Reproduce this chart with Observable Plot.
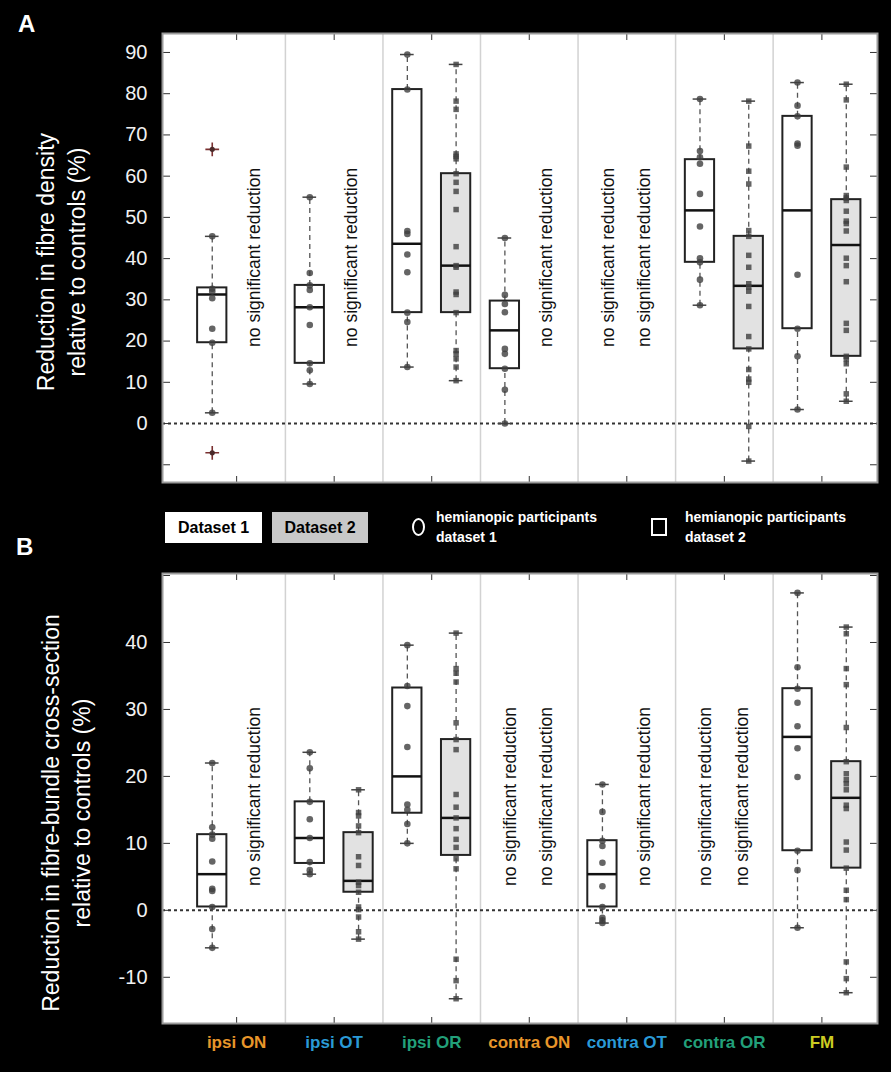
<!DOCTYPE html>
<html><head><meta charset="utf-8">
<script src="https://cdn.jsdelivr.net/npm/d3@7"></script>
<script src="https://cdn.jsdelivr.net/npm/@observablehq/plot@0.6"></script>
<style>
body{margin:0;background:#000;}
#wrap{position:relative;width:891px;height:1072px;background:#000;overflow:hidden;font-family:"Liberation Sans",Arial,sans-serif;}
.abs{position:absolute;}
.letter{color:#fff;font-weight:bold;font-size:24px;}
.ytitle{color:#fff;font-size:23px;line-height:31px;text-align:center;white-space:nowrap;transform:translate(-50%,-50%) rotate(-90deg);}
.lg{font-family:"Liberation Sans Narrow","Arial Narrow","Liberation Sans",Arial,sans-serif;font-weight:bold;}
.dsbox{color:#000;font-size:16px;display:flex;align-items:center;justify-content:center;}
.lgtext{color:#fff;font-size:14px;line-height:20px;}
</style></head><body><div id="wrap"></div><script>
// categories
const groups = ["ipsi ON","ipsi OT","ipsi OR","contra ON","contra OT","contra OR","FM"];
const groupColors = ["#e8962a","#2a9ad6","#22a07a","#e8962a","#2a9ad6","#22a07a","#cccc22"];

// Panel A: reduction in fibre density (%)
const fdGroup = [0,1,2,2,3,5,5,6,6];
const fdSet   = [1,1,1,2,1,1,2,1,2];
const fdLow   = [2.6, 9.6, 13.7, 10.4, 0.0, 28.7, -9.1, 3.4, 5.4];
const fdQ1    = [19.6, 14.6, 26.9, 26.9, 13.3, 39.1, 18.1, 23.0, 16.3];
const fdMed   = [31.3, 28.2, 43.6, 38.3, 22.6, 51.7, 33.4, 51.7, 43.3];
const fdQ3    = [32.9, 33.5, 81.0, 60.6, 29.7, 64.0, 45.4, 74.5, 54.3];
const fdHigh  = [45.4, 54.9, 89.5, 87.1, 45.0, 78.7, 78.2, 82.7, 82.3];
const fdPoints = [
  [45.4, 32.7, 32.0, 30.4, 23.0, 19.6, 2.6],
  [54.9, 36.5, 33.5, 32.4, 28.2, 23.9, 14.6, 12.9, 9.6],
  [89.5, 81.0, 46.7, 46.0, 41.0, 36.7, 26.9, 24.6, 13.7],
  [87.1, 78.2, 76.2, 65.4, 64.8, 64.2, 60.6, 58.5, 56.3, 51.9, 42.9, 38.3, 37.9, 31.9, 31.3, 26.9, 17.7, 16.9, 15.7, 13.7, 10.4],
  [45.0, 31.2, 29.0, 27.0, 18.1, 16.9, 13.3, 8.2, 0.0],
  [78.7, 66.1, 64.6, 63.0, 55.7, 47.8, 40.1, 39.1, 34.9, 28.7],
  [78.2, 67.3, 61.2, 58.1, 46.8, 45.4, 40.8, 37.9, 33.9, 33.1, 32.1, 28.4, 21.1, 18.1, 13.1, 10.8, 10.0, -0.7, -9.1],
  [82.7, 77.1, 74.5, 67.9, 67.4, 36.1, 23.0, 16.3, 3.4],
  [82.3, 78.5, 62.2, 55.3, 54.7, 54.1, 51.5, 49.1, 48.5, 46.7, 40.1, 38.3, 34.4, 24.3, 22.6, 16.3, 15.7, 14.5, 7.2, 5.4]
];
const fdOutGroup = [0, 0];
const fdOutSet   = [1, 1];
const fdOutValue = [66.5, -7.1];
const fdNoSigGroup = [0, 1, 3, 4, 4];
const fdNoSigSet   = [2, 2, 2, 1, 2];
const fdTicks = [-10, 0, 10, 20, 30, 40, 50, 60, 70, 80, 90];
const fdTickLabels = [0, 10, 20, 30, 40, 50, 60, 70, 80, 90];

// Panel B: reduction in fibre-bundle cross-section (%)
const fcGroup = [0,1,1,2,2,4,6,6];
const fcSet   = [1,1,2,1,2,1,1,2];
const fcLow   = [-5.6, 5.4, -4.3, 10.0, -13.2, -1.9, -2.6, -12.3];
const fcQ1    = [0.5, 7.0, 2.7, 14.5, 8.2, 0.5, 8.9, 6.3];
const fcMed   = [5.4, 10.8, 4.4, 20.0, 13.8, 5.4, 25.9, 16.8];
const fcQ3    = [11.3, 16.2, 11.6, 33.2, 25.5, 10.4, 33.1, 22.2];
const fcHigh  = [22.0, 23.6, 18.0, 39.6, 41.4, 18.8, 47.4, 42.3];
const fcPoints = [
  [22.0, 12.4, 11.3, 10.7, 7.3, 3.2, 2.9, 0.5, -2.8, -5.6],
  [23.6, 21.2, 16.2, 13.6, 10.8, 7.2, 6.0, 5.4],
  [18.0, 14.6, 14.1, 12.6, 11.6, 8.0, 6.7, 4.2, 3.7, 2.7, 0.5, 0.1, -1.0, -3.2, -4.3],
  [39.6, 33.5, 30.5, 24.4, 15.8, 15.0, 12.9, 10.0],
  [41.4, 36.1, 35.4, 34.1, 28.0, 25.5, 24.0, 17.3, 15.4, 13.8, 12.2, 10.6, 9.4, 7.7, 6.2, -7.3, -10.5, -13.2],
  [18.8, 14.7, 10.4, 9.6, 7.1, 3.6, 0.5, -1.1, -1.5, -1.9],
  [47.4, 36.3, 33.1, 31.0, 27.5, 24.2, 19.9, 8.9, 6.0, -2.6],
  [42.3, 41.3, 36.1, 33.7, 27.3, 22.2, 20.4, 19.5, 18.9, 18.0, 15.7, 15.2, 10.2, 9.0, 6.3, 3.0, 1.6, -7.7, -10.2, -12.3]
];
const fcNoSigGroup = [0, 3, 3, 4, 5, 5];
const fcNoSigSet   = [2, 1, 2, 2, 1, 2];
const fcTicks = [-10, 0, 10, 20, 30, 40, 50];
const fcTickLabels = [-10, 0, 10, 20, 30, 40];

const noSigText = "no significant reduction";

function panel(cfg) {
  const pos = d => d.g + (d.s === 1 ? -0.25 : 0.25);
  const boxes = cfg.group.map((g, i) => ({g, s: cfg.set[i], lo: cfg.low[i], q1: cfg.q1[i], med: cfg.med[i], q3: cfg.q3[i], hi: cfg.high[i]}));
  const pts = [];
  cfg.points.forEach((arr, i) => arr.forEach(v => pts.push({g: cfg.group[i], s: cfg.set[i], v})));
  const outs = (cfg.outGroup || []).map((g, i) => ({g, s: cfg.outSet[i], v: cfg.outValue[i]}));
  const noSig = cfg.noSigGroup.map((g, i) => ({g, s: cfg.noSigSet[i]}));
  const seps = d3.range(groups.length - 1).map(i => i + 0.5);
  const gIdx = groups.map((_, i) => i);
  const font = "Liberation Sans, Arial, sans-serif";
  const marks = [
    Plot.frame({fill: "white", stroke: null}),
    Plot.ruleX(seps, {stroke: "#d2d2d2", strokeWidth: 1.5}),
    Plot.ruleY([0], {stroke: "#333", strokeWidth: 2, strokeDasharray: "3,3"}),
    Plot.ruleX(boxes, {x: pos, y1: "q3", y2: "hi", stroke: "#555", strokeWidth: 1.3, strokeDasharray: "5,4"}),
    Plot.ruleX(boxes, {x: pos, y1: "lo", y2: "q1", stroke: "#555", strokeWidth: 1.3, strokeDasharray: "5,4"}),
    Plot.ruleY(boxes, {y: "hi", x1: d => pos(d) - 0.07, x2: d => pos(d) + 0.07, stroke: "#444", strokeWidth: 1.5}),
    Plot.ruleY(boxes, {y: "lo", x1: d => pos(d) - 0.07, x2: d => pos(d) + 0.07, stroke: "#444", strokeWidth: 1.5}),
    Plot.rect(boxes.filter(d => d.s === 1), {x1: d => pos(d) - 0.15, x2: d => pos(d) + 0.15, y1: "q1", y2: "q3", fill: "white", stroke: "#222", strokeWidth: 2}),
    Plot.rect(boxes.filter(d => d.s === 2), {x1: d => pos(d) - 0.15, x2: d => pos(d) + 0.15, y1: "q1", y2: "q3", fill: "#e2e2e2", stroke: "#222", strokeWidth: 2}),
    Plot.ruleY(boxes, {y: "med", x1: d => pos(d) - 0.15, x2: d => pos(d) + 0.15, stroke: "#111", strokeWidth: 2.5}),
    Plot.dot(pts.filter(d => d.s === 1), {x: pos, y: "v", symbol: "circle", r: 3.3, fill: "#3f3f3f", fillOpacity: 0.8, stroke: null}),
    Plot.dot(pts.filter(d => d.s === 2), {x: pos, y: "v", symbol: "square", r: 3.1, fill: "#3f3f3f", fillOpacity: 0.8, stroke: null}),
    Plot.dot(outs, {x: pos, y: "v", symbol: "plus", r: 4.5, stroke: "#7a3030", strokeWidth: 1.6, fill: "none"}),
    Plot.dot(outs, {x: pos, y: "v", symbol: "circle", r: 2.6, fill: "#4a2a2a", stroke: null}),
    Plot.text(noSig, {x: d => d.g + (d.s === 1 ? -0.19 : 0.18), y: () => cfg.noSigY, text: () => noSigText, rotate: -90, fontSize: 17.5, fill: "#111", fontFamily: font}),
    Plot.axisY({ticks: cfg.ticks, anchor: "left", tickSize: -8, tickFormat: () => "", stroke: "#333", label: null}),
    Plot.axisY({ticks: cfg.ticks, anchor: "right", tickSize: -8, tickFormat: () => "", stroke: "#333", label: null}),
    Plot.axisY({ticks: cfg.tickLabels, anchor: "left", tickSize: 0, tickPadding: 15, tickFormat: d => String(d), fill: "#f2f2f2", fontSize: 20, label: null, fontFamily: font}),
    Plot.axisX({ticks: gIdx, anchor: "top", tickSize: -6, tickFormat: () => "", stroke: "#333", label: null}),
    Plot.axisX({ticks: gIdx, anchor: "bottom", tickSize: -6, tickFormat: () => "", stroke: "#333", label: null}),
    Plot.frame({stroke: "#9a9a9a", strokeWidth: 2})
  ];
  if (cfg.xLabels) {
    groups.forEach((g, i) => marks.push(Plot.text([g], {x: () => i, frameAnchor: "bottom", dy: 24, text: d => d, fill: groupColors[i], fontWeight: "bold", fontSize: 17, fontFamily: font})));
  }
  return Plot.plot({
    width: 891, height: cfg.height,
    marginLeft: 162, marginRight: 14, marginTop: cfg.mTop, marginBottom: cfg.mBottom,
    style: {background: "transparent", color: "white", overflow: "visible"},
    x: {domain: [-0.76, 6.57]},
    y: {domain: cfg.yDomain},
    marks
  });
}

const wrap = document.getElementById("wrap");
function place(el, left, top) { el.style.position = "absolute"; el.style.left = left + "px"; el.style.top = top + "px"; wrap.appendChild(el); return el; }
function div(cls, html, left, top, extra) { const d = document.createElement("div"); d.className = "abs " + cls; d.innerHTML = html; d.style.left = left + "px"; d.style.top = top + "px"; if (extra) Object.assign(d.style, extra); wrap.appendChild(d); return d; }

const pA = panel({group: fdGroup, set: fdSet, low: fdLow, q1: fdQ1, med: fdMed, q3: fdQ3, high: fdHigh, points: fdPoints,
  outGroup: fdOutGroup, outSet: fdOutSet, outValue: fdOutValue, noSigGroup: fdNoSigGroup, noSigSet: fdNoSigSet,
  ticks: fdTicks, tickLabels: fdTickLabels, yDomain: [-14.3, 94.6], noSigY: 40.3, height: 490, mTop: 33, mBottom: 8});
place(pA, 0, 0);

const pB = panel({group: fcGroup, set: fcSet, low: fcLow, q1: fcQ1, med: fcMed, q3: fcQ3, high: fcHigh, points: fcPoints,
  noSigGroup: fcNoSigGroup, noSigSet: fcNoSigSet, ticks: fcTicks, tickLabels: fcTickLabels, yDomain: [-16.9, 50.3],
  noSigY: 17.0, height: 512, mTop: 13, mBottom: 49, xLabels: true});
place(pB, 0, 560);

// panel letters
div("letter", "A", 18, 10);
div("letter", "B", 16, 533);

// y titles
div("ytitle", "Reduction in fibre density<br>relative to controls (%)", 62, 262);
div("ytitle", "Reduction in fibre-bundle cross-section<br>relative to controls (%)", 67, 813);

// legend
div("lg dsbox", "Dataset 1", 165, 512, {width: "97px", height: "31px", background: "#fff"});
div("lg dsbox", "Dataset 2", 272, 512, {width: "96px", height: "31px", background: "#c8c8c8"});
div("", "", 412, 518, {width: "13px", height: "18px", border: "2px solid #fff", borderRadius: "50%", boxSizing: "border-box"});
div("lg lgtext", "hemianopic participants<br>dataset 1", 436, 507);
div("", "", 651, 518, {width: "16px", height: "18px", border: "2px solid #fff", boxSizing: "border-box"});
div("lg lgtext", "hemianopic participants<br>dataset 2", 685, 507);
</script></body></html>
